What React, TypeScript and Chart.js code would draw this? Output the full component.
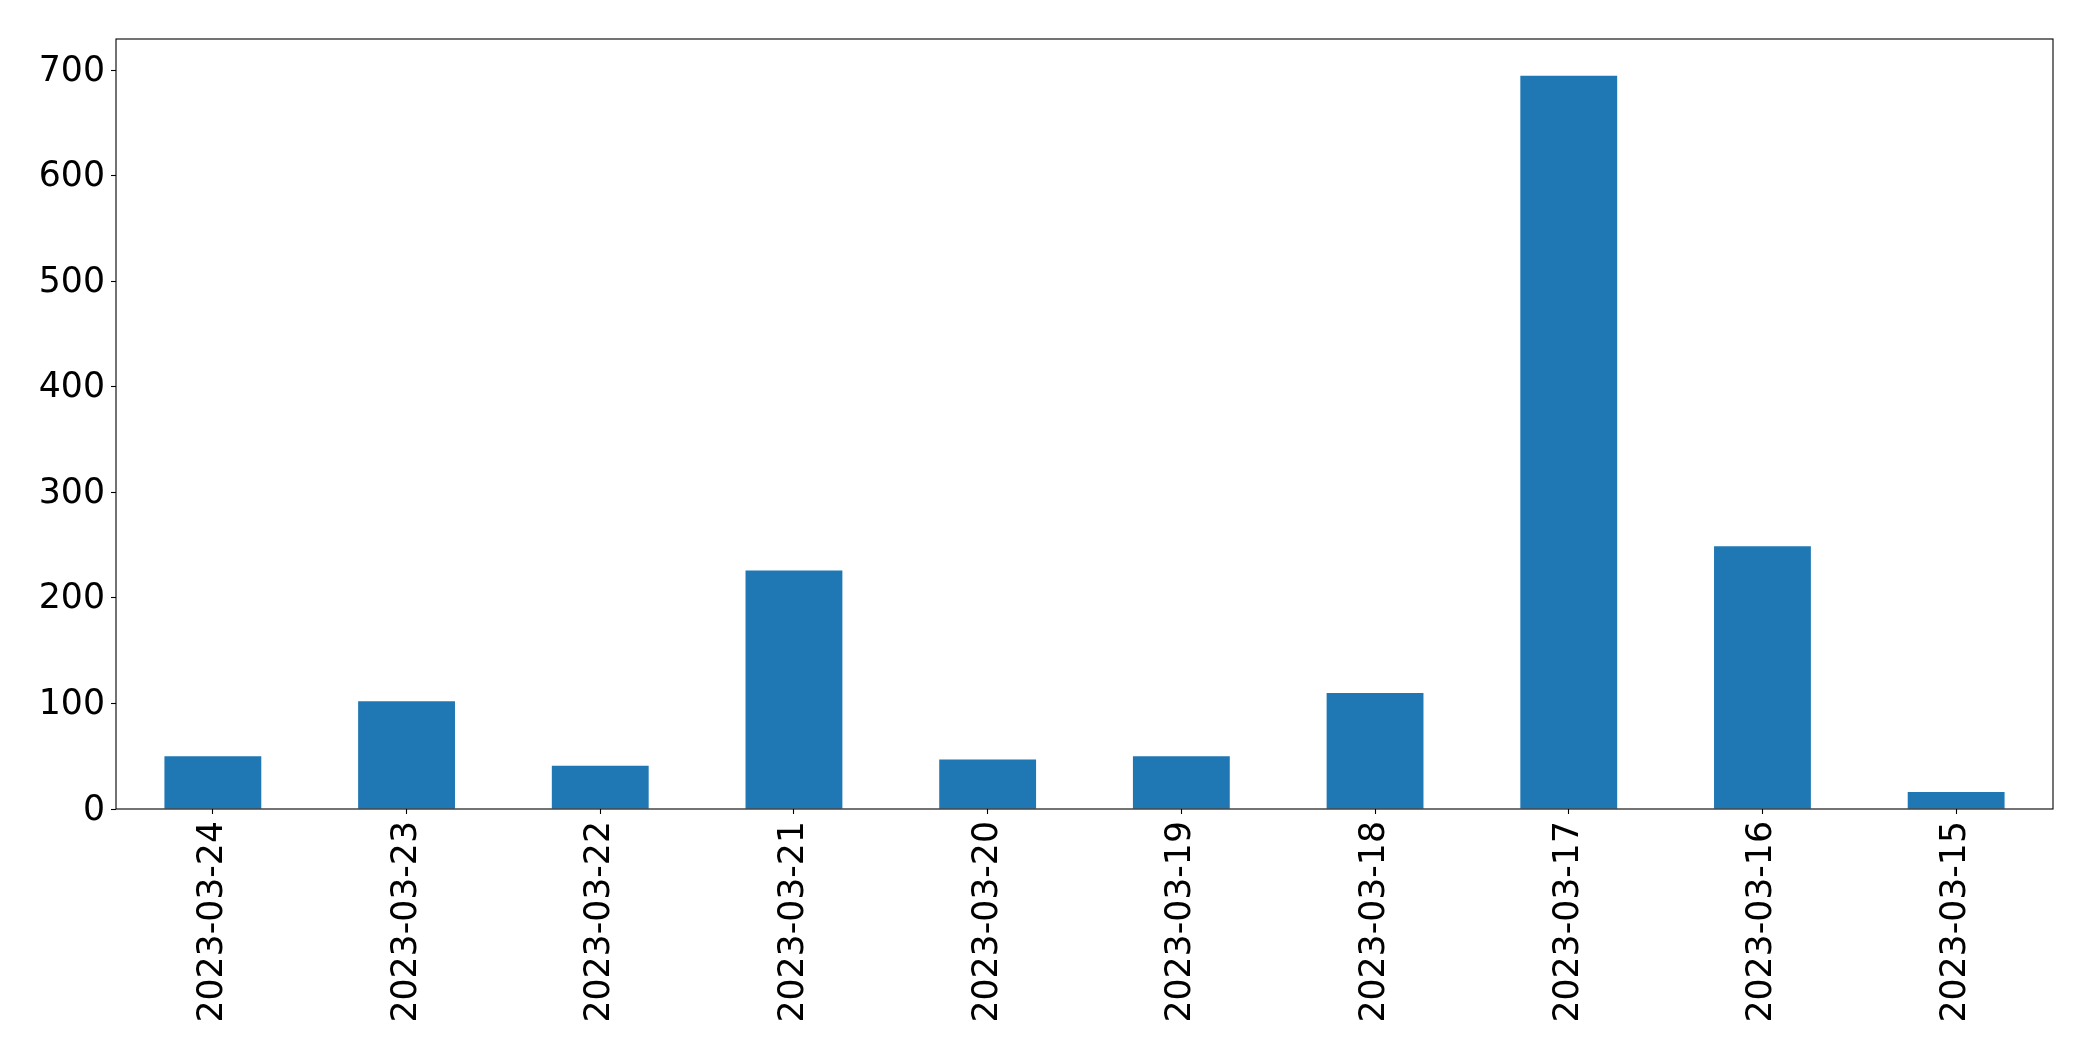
import React, { useEffect, useRef } from "react";
import { Chart, registerables } from "chart.js";

Chart.register(...registerables);

const categories = [
  "2023-03-24",
  "2023-03-23",
  "2023-03-22",
  "2023-03-21",
  "2023-03-20",
  "2023-03-19",
  "2023-03-18",
  "2023-03-17",
  "2023-03-16",
  "2023-03-15",
];
const values = [50, 102, 41, 226, 47, 50, 110, 695, 249, 16];
const yTicks = [0, 100, 200, 300, 400, 500, 600, 700];
const yAxisMax = 729.75;

const W = 2093;
const H = 1061;

const framePlugin = {
  id: "frame",
  afterDraw(chart: any) {
    const { ctx, chartArea } = chart;
    const { left, top, right, bottom } = chartArea;
    ctx.save();
    ctx.strokeStyle = "#000";
    ctx.lineWidth = 1.1;
    ctx.strokeRect(left, top, right - left, bottom - top);
    ctx.restore();
  },
};

export default function App() {
  const ref = useRef<HTMLCanvasElement | null>(null);

  useEffect(() => {
    if (!ref.current) return;
    const font = { family: "DejaVu Sans", size: 34.7 };
    const chart = new Chart(ref.current, {
      type: "bar",
      data: {
        labels: categories,
        datasets: [
          {
            data: values,
            backgroundColor: "#1f77b4",
            borderWidth: 0,
            categoryPercentage: 1,
            barPercentage: 0.5,
          },
        ],
      },
      options: {
        responsive: false,
        animation: false,
        devicePixelRatio: 1,
        layout: { padding: { top: 39, right: 40, left: 0, bottom: 0 } },
        plugins: {
          legend: { display: false },
          tooltip: { enabled: false },
          title: { display: false },
        },
        scales: {
          x: {
            offset: true,
            grid: {
              offset: false,
              drawOnChartArea: false,
              drawTicks: true,
              tickLength: 5,
              tickColor: "#000",
              tickWidth: 1.1,
              color: "#000",
            },
            border: { display: false },
            ticks: {
              autoSkip: false,
              minRotation: 90,
              maxRotation: 90,
              color: "#000",
              font,
              padding: 7,
            },
            afterFit(scale: any) {
              scale.height = 252;
            },
          },
          y: {
            min: 0,
            max: yAxisMax,
            grid: {
              drawOnChartArea: false,
              drawTicks: true,
              tickLength: 5,
              tickColor: "#000",
              tickWidth: 1.1,
              color: "#000",
            },
            border: { display: false },
            ticks: {
              color: "#000",
              font,
              padding: 6,
              labelOffset: 1.5,
            },
            afterBuildTicks(scale: any) {
              scale.ticks = yTicks.map((v) => ({ value: v }));
            },
            afterFit(scale: any) {
              scale.width = 116;
            },
          },
        },
      },
      plugins: [framePlugin],
    });
    return () => chart.destroy();
  }, []);

  return (
    <div style={{ position: "absolute", left: 0, top: 0, width: W, height: H, background: "#fff" }}>
      <canvas ref={ref} width={W} height={H} style={{ display: "block", width: W, height: H }} />
    </div>
  );
}
